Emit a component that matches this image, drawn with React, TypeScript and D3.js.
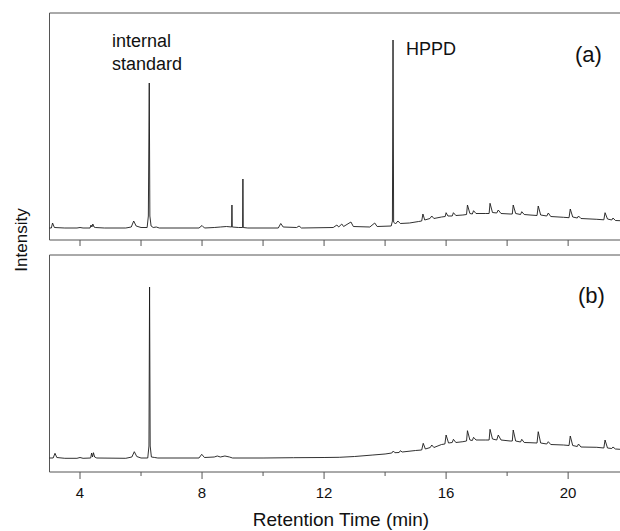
import React from 'react';
import * as d3 from 'd3';

// retention time (min), intensity (a.u.)
const traceA: [number, number][] = [
  [3.0, 12], [3.06, 12], [3.1, 17], [3.16, 12.5], [3.5, 12], [3.9, 12], [4.0, 12.5], [4.1, 12],
  [4.33, 12], [4.36, 15], [4.39, 13], [4.42, 16], [4.46, 13], [4.5, 12.5], [4.8, 12], [5.5, 12],
  [5.68, 13], [5.76, 19], [5.84, 14], [6.0, 12.5], [6.2, 12.5], [6.24, 24], [6.27, 157], [6.29, 24],
  [6.33, 14], [6.4, 12.5], [6.5, 13], [6.6, 12], [7.9, 12], [8.0, 14.5], [8.08, 12], [8.4, 12.5],
  [8.6, 13], [8.8, 13.5], [8.97, 13], [8.98, 35], [8.99, 13], [9.2, 12.5], [9.33, 12.5], [9.34, 61],
  [9.35, 12.5], [9.5, 12], [10.5, 12], [10.58, 16.5], [10.66, 13], [11.1, 12.5], [11.18, 14],
  [11.26, 12], [12.3, 12.5], [12.42, 15], [12.48, 13], [12.58, 16], [12.64, 13.5], [12.88, 18],
  [12.96, 13.5], [13.5, 13], [13.66, 17], [13.74, 13.5], [14.2, 14], [14.24, 19], [14.26, 200],
  [14.28, 18], [14.34, 16], [14.42, 19], [14.5, 16.5], [14.8, 17], [15.1, 18.5], [15.2, 19],
  [15.24, 26], [15.3, 20], [15.47, 21.5], [15.53, 24], [15.6, 21.5], [15.85, 23], [15.97, 23.5],
  [16.0, 27.3], [16.06, 24], [16.2, 24], [16.24, 27.3], [16.32, 24.5], [16.55, 25], [16.67, 25.5],
  [16.7, 35], [16.78, 26.5], [16.86, 26], [16.9, 29.3], [16.98, 26.5], [17.3, 26.5], [17.41, 26.5],
  [17.44, 36.7], [17.52, 27.5], [17.66, 27], [17.71, 30], [17.8, 26.5], [18.1, 26], [18.17, 26],
  [18.2, 35], [18.28, 26.5], [18.44, 25.5], [18.48, 28.3], [18.56, 25.5], [18.75, 25], [18.98, 24.5],
  [19.02, 34], [19.1, 25], [19.3, 24], [19.35, 27], [19.43, 23.5], [19.85, 22.7], [20.03, 22.3],
  [20.07, 31], [20.15, 23], [20.3, 22], [20.34, 24], [20.42, 21.5], [20.94, 20.7], [21.17, 20.2],
  [21.21, 27.3], [21.29, 21], [21.43, 20], [21.47, 22], [21.55, 19.5], [21.7, 19.3],
];

const traceB: [number, number][] = [
  [3.0, 14], [3.12, 14], [3.18, 18.7], [3.24, 14.5], [3.5, 13.7], [3.9, 13.7], [4.0, 14.5], [4.1, 13.7],
  [4.35, 14], [4.38, 19], [4.41, 15], [4.44, 19.3], [4.48, 15], [4.55, 14], [5.5, 13.7], [5.7, 15],
  [5.78, 20.3], [5.86, 15.5], [6.0, 14], [6.22, 14], [6.26, 26], [6.28, 185], [6.3, 26], [6.34, 15],
  [6.45, 14.5], [6.55, 14], [7.9, 14], [7.99, 17.7], [8.08, 14.5], [8.4, 15], [8.5, 16], [8.6, 15],
  [8.75, 16], [8.9, 15], [9.0, 14], [10.0, 14], [11.0, 14.3], [12.0, 14.5], [12.5, 14.7], [13.0, 15.5],
  [13.6, 17], [14.0, 18], [14.22, 19], [14.27, 21], [14.32, 19.3], [14.46, 19.5], [14.5, 21.3],
  [14.56, 20], [15.0, 21.5], [15.2, 22], [15.25, 28.7], [15.32, 23], [15.48, 24.5], [15.53, 27],
  [15.6, 24.5], [15.85, 27.5], [15.96, 28], [16.0, 37], [16.08, 29], [16.2, 29.5], [16.24, 32.7],
  [16.32, 29.5], [16.55, 30.3], [16.67, 31], [16.7, 41.3], [16.78, 32], [16.86, 31.5], [16.9, 34.7],
  [16.98, 32], [17.3, 32], [17.41, 32], [17.44, 42.7], [17.52, 33], [17.66, 32], [17.71, 37],
  [17.8, 32], [18.1, 31], [18.17, 31], [18.2, 42], [18.28, 31], [18.44, 30], [18.48, 32.7],
  [18.56, 29.5], [18.75, 29.3], [18.98, 29], [19.02, 40.3], [19.1, 29], [19.3, 28], [19.35, 30.3],
  [19.43, 27.5], [19.85, 27], [20.03, 26.5], [20.07, 36], [20.15, 26.5], [20.3, 25.5], [20.34, 28],
  [20.42, 25], [20.94, 24.7], [21.17, 24], [21.21, 32], [21.29, 24], [21.43, 23.5], [21.47, 25],
  [21.55, 23], [21.7, 22.7],
];

const majorTicks = [4, 8, 12, 16, 20];
const minorTicks = [6, 10, 14, 18];

const font = 'Liberation Sans, Arial, sans-serif';

const App = () => {
  const width = 620;
  const height = 531;

  const x = d3.scaleLinear().domain([3, 21.7]).range([49.5, 620]);
  const yA = d3.scaleLinear().domain([0, 227]).range([240, 13]);
  const yB = d3.scaleLinear().domain([0, 217]).range([472, 255]);

  const lineA = d3.line<[number, number]>().x(d => x(d[0])).y(d => yA(d[1]));
  const lineB = d3.line<[number, number]>().x(d => x(d[0])).y(d => yB(d[1]));

  const frame = (top: number, bottom: number) => (
    <path
      d={`M620,${top}H${x(3)}V${bottom}H620`}
      fill="none"
      stroke="#555"
      strokeWidth={1}
    />
  );

  return (
    <svg width={width} height={height} style={{ position: 'absolute', left: 0, top: 0 }}>
      <rect width={width} height={height} fill="#fff" />

      {/* panel (a) */}
      {frame(yA(227), yA(0))}
      {[...majorTicks, ...minorTicks].map(t => (
        <line key={'ta' + t} x1={x(t)} x2={x(t)} y1={yA(0)} y2={yA(0) + 6} stroke="#555" />
      ))}
      <path d={lineA(traceA) || ''} fill="none" stroke="#1a1a1a" strokeWidth={0.9} />
      <text x={112} y={47} fontFamily={font} fontSize={18} fill="#111">internal</text>
      <text x={112} y={70} fontFamily={font} fontSize={18} fill="#111">standard</text>
      <text x={406} y={55} fontFamily={font} fontSize={18} fill="#111">HPPD</text>
      <text x={575} y={62} fontFamily={font} fontSize={22} fill="#111">(a)</text>

      {/* panel (b) */}
      {frame(yB(217), yB(0))}
      {majorTicks.map(t => (
        <line key={'tb' + t} x1={x(t)} x2={x(t)} y1={yB(0)} y2={yB(0) + 7} stroke="#555" />
      ))}
      {minorTicks.map(t => (
        <line key={'mb' + t} x1={x(t)} x2={x(t)} y1={yB(0)} y2={yB(0) + 4} stroke="#555" />
      ))}
      <path d={lineB(traceB) || ''} fill="none" stroke="#1a1a1a" strokeWidth={0.9} />
      <text x={578} y={303} fontFamily={font} fontSize={22} fill="#111">(b)</text>

      {majorTicks.map(t => (
        <text key={'lb' + t} x={x(t)} y={498} textAnchor="middle" fontFamily={font} fontSize={15} fill="#111">
          {t}
        </text>
      ))}
      <text x={341} y={526} textAnchor="middle" fontFamily={font} fontSize={19} fill="#111">
        Retention Time (min)
      </text>
      <text
        transform="translate(27,240) rotate(-90)"
        textAnchor="middle"
        fontFamily={font}
        fontSize={17}
        fill="#111"
      >
        Intensity
      </text>
    </svg>
  );
};

export default App;
